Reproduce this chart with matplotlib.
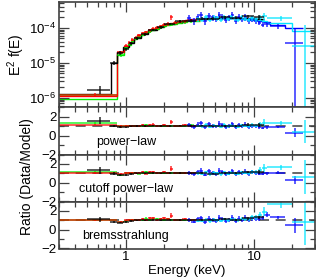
import numpy as np
import matplotlib
matplotlib.use("Agg")
import matplotlib.pyplot as plt
from matplotlib.ticker import LogLocator, MultipleLocator, FixedLocator, FixedFormatter, NullFormatter

plt.rcParams['font.family'] = ['Liberation Sans', 'DejaVu Sans']
plt.rcParams['mathtext.default'] = 'regular'
plt.rcParams['axes.unicode_minus'] = True

# ---------------- data (keV, E^2 f(E)) ----------------
# black
bk_edges = [0.5, 0.75, 0.85, 0.95, 1.05, 1.15, 1.3, 1.5, 1.75, 2.0, 2.4, 2.9, 3.5, 4.3, 5.3, 6.5, 8.0, 10.0, 12.0]
bk_flux = [1.7e-6, 1.0e-5, 1.9e-5, 2.5e-5, 3.6e-5, 5.0e-5, 6.5e-5, 8.9e-5, 1.03e-4, 1.3e-4, 1.53e-4, 1.62e-4,
           1.85e-4, 1.85e-4, 2.05e-4, 1.95e-4, 2.15e-4, 2.0e-4]
bk_frel = [0.25, 0.15, 0.12, 0.1, 0.1, 0.08, 0.08, 0.08, 0.08, 0.08, 0.08, 0.08, 0.08, 0.08, 0.1, 0.1, 0.12, 0.15]
bk_mod_edges = [0.3, 0.76, 0.85, 0.95, 1.05, 1.15, 1.3, 1.5, 1.75, 2.0, 2.4, 2.9, 3.5, 4.3, 5.3, 6.5, 8.0, 10.0, 12.0]
bk_mod = [1.3e-6, 1.0e-5, 2.1e-5, 2.9e-5, 3.8e-5, 5.0e-5, 6.6e-5, 8.5e-5, 1.05e-4, 1.28e-4, 1.48e-4, 1.65e-4,
          1.8e-4, 1.9e-4, 1.95e-4, 1.95e-4, 1.9e-4, 1.8e-4]
bk_r_pl = [1.55, 1.0, 0.9, 0.86, 0.95, 1.0, 0.98, 1.05, 0.98, 1.02, 1.03, 0.98, 1.03, 0.97, 1.05, 1.0, 1.13, 1.1]
bk_r_cpl = [1.3, 0.95, 0.85, 0.85, 0.95, 1.0, 0.98, 1.05, 0.98, 1.02, 1.03, 0.98, 1.03, 0.97, 1.05, 1.0, 1.13, 1.15]
bk_r_br = [1.1, 0.8, 0.75, 0.8, 0.92, 1.0, 0.98, 1.05, 1.0, 1.03, 1.05, 1.0, 1.05, 1.0, 1.1, 1.05, 1.2, 1.3]

# red and green (shared binning)
rg_edges = [0.3, 0.85, 0.97, 1.03, 1.09, 1.16, 1.23, 1.31, 1.39, 1.48, 1.58, 1.68, 1.80, 1.93, 2.07, 2.20,
            2.32, 2.50, 2.75, 3.00, 3.40, 3.80]
rd_flux = [1.25e-6, 2.0e-5, 3.1e-5, 3.8e-5, 4.6e-5, 5.3e-5, 6.2e-5, 7.0e-5, 7.6e-5, 8.6e-5, 9.6e-5, 1.02e-4,
           1.12e-4, 1.22e-4, 1.30e-4, 2.0e-4, 1.42e-4, 1.50e-4, 1.56e-4, 1.64e-4, 1.70e-4]
rd_frel = [0.08, 0.12, 0.1, 0.1, 0.1, 0.1, 0.1, 0.1, 0.1, 0.1, 0.1, 0.1, 0.1, 0.1, 0.1, 0.15, 0.1, 0.1, 0.1, 0.1, 0.1]
rd_mod = [1.1e-6, 2.1e-5, 3.0e-5, 3.7e-5, 4.5e-5, 5.3e-5, 6.1e-5, 6.9e-5, 7.7e-5, 8.6e-5, 9.4e-5, 1.03e-4,
          1.12e-4, 1.2e-4, 1.28e-4, 1.35e-4, 1.41e-4, 1.49e-4, 1.56e-4, 1.63e-4, 1.70e-4]
rd_r_pl = [1.15, 0.95, 1.05, 1.02, 1.03, 1.0, 1.05, 1.08, 0.95, 1.1, 1.15, 0.98, 1.0, 1.12, 1.05, 1.45, 1.02, 1.0,
           1.08, 1.0, 1.02]
rd_r_cpl = [1.05, 0.9, 1.02, 1.0, 1.03, 1.0, 1.05, 1.1, 0.97, 1.12, 1.17, 1.0, 1.02, 1.15, 1.08, 1.5, 1.05, 1.02,
            1.08, 1.0, 1.02]
rd_r_br = [1.0, 0.82, 0.98, 1.0, 1.05, 1.03, 1.08, 1.15, 1.02, 1.2, 1.25, 1.08, 1.1, 1.2, 1.12, 1.5, 1.08, 1.05,
           1.1, 1.02, 1.02]

gr_flux = [1.2e-6, 1.7e-5, 2.6e-5, 3.4e-5, 4.2e-5, 4.9e-5, 5.5e-5, 6.4e-5, 7.3e-5, 7.8e-5, 8.8e-5, 9.6e-5,
           1.06e-4, 1.12e-4, 1.22e-4, 1.25e-4, 1.33e-4, 1.40e-4, 1.48e-4, 1.58e-4, 1.62e-4]
gr_frel = [0.08, 0.12, 0.1, 0.1, 0.1, 0.1, 0.1, 0.1, 0.1, 0.1, 0.1, 0.1, 0.1, 0.1, 0.1, 0.1, 0.1, 0.1, 0.1, 0.1, 0.1]
gr_mod = [0.93e-6, 1.7e-5, 2.6e-5, 3.3e-5, 4.1e-5, 4.8e-5, 5.6e-5, 6.4e-5, 7.1e-5, 7.9e-5, 8.7e-5, 9.5e-5,
          1.04e-4, 1.12e-4, 1.19e-4, 1.26e-4, 1.32e-4, 1.4e-4, 1.47e-4, 1.55e-4, 1.62e-4]
gr_r_pl = [1.35, 0.95, 1.0, 1.05, 1.02, 1.0, 0.95, 1.0, 1.08, 0.98, 1.05, 1.0, 1.03, 0.98, 1.05, 0.98, 1.02, 1.0,
           1.05, 1.06, 1.0]
gr_r_cpl = [1.15, 0.85, 0.98, 1.05, 1.02, 1.0, 0.97, 1.02, 1.1, 1.0, 1.08, 1.02, 1.05, 1.0, 1.08, 1.0, 1.05, 1.02,
            1.06, 1.06, 1.0]
gr_r_br = [1.02, 0.78, 0.95, 1.05, 1.05, 1.05, 1.02, 1.08, 1.18, 1.08, 1.15, 1.1, 1.12, 1.05, 1.12, 1.05, 1.08,
           1.05, 1.08, 1.08, 1.02]

# blue
bl_edges = [3.0, 3.25, 3.5, 3.75, 4.0, 4.3, 4.6, 4.9, 5.2, 5.5, 5.85, 6.2, 6.6, 7.0, 7.4, 7.85, 8.3, 8.8, 9.4,
            10.0, 10.7, 11.4, 12.0, 13.4, 17.5, 24.0]
bl_flux = [1.87e-4, 1.58e-4, 2.07e-4, 2.38e-4, 1.58e-4, 2.26e-4, 2.0e-4, 1.81e-4, 2.4e-4, 2.11e-4, 1.73e-4,
           2.0e-4, 2.28e-4, 1.6e-4, 2.05e-4, 1.84e-4, 2.07e-4, 1.58e-4, 1.81e-4, 1.59e-4, 1.38e-4, 1.25e-4,
           1.26e-4, 1.13e-4, 3.7e-5]
bl_frel = [0.22, 0.22, 0.2, 0.2, 0.22, 0.2, 0.2, 0.2, 0.22, 0.2, 0.2, 0.2, 0.22, 0.2, 0.2, 0.2, 0.22, 0.2, 0.2,
           0.2, 0.15, 0.15, 0.15, 0.15, 1.7]
bl_mod = [1.7e-4, 1.75e-4, 1.8e-4, 1.83e-4, 1.86e-4, 1.88e-4, 1.9e-4, 1.91e-4, 1.92e-4, 1.92e-4, 1.92e-4,
          1.91e-4, 1.9e-4, 1.88e-4, 1.86e-4, 1.84e-4, 1.8e-4, 1.76e-4, 1.72e-4, 1.67e-4, 1.62e-4, 1.56e-4,
          1.48e-4, 1.25e-4, 1.0e-4]
bl_r_pl = [1.1, 0.9, 1.15, 1.3, 0.85, 1.2, 1.05, 0.95, 1.25, 1.1, 0.9, 1.05, 1.2, 0.85, 1.1, 1.0, 1.15, 0.9,
           1.05, 0.95, 0.85, 0.8, 0.85, 0.9, 0.3]
bl_r_cpl = [1.05, 0.88, 1.12, 1.28, 0.85, 1.2, 1.05, 0.95, 1.25, 1.1, 0.9, 1.05, 1.2, 0.88, 1.12, 1.02, 1.18,
            0.95, 1.1, 1.0, 0.95, 0.95, 1.0, 1.05, 0.25]
bl_r_br = [1.0, 0.85, 1.1, 1.25, 0.82, 1.18, 1.05, 0.95, 1.25, 1.12, 0.92, 1.08, 1.25, 0.92, 1.18, 1.08, 1.28,
           1.05, 1.22, 1.15, 1.15, 1.25, 1.6, 1.3, 0.45]

# cyan
cy_edges = [3.5, 3.8, 4.1, 4.4, 4.7, 5.0, 5.35, 5.7, 6.05, 6.45, 6.85, 7.3, 7.75, 8.25, 8.8, 9.4, 10.0, 10.7,
            11.5, 12.6, 20.0, 30.0]
cy_flux = [1.78e-4, 1.73e-4, 2.04e-4, 1.68e-4, 1.98e-4, 1.9e-4, 1.72e-4, 2.1e-4, 1.81e-4, 2.0e-4, 1.89e-4,
           1.72e-4, 2.0e-4, 1.82e-4, 1.69e-4, 1.91e-4, 1.79e-4, 1.97e-4, 2.12e-4, 1.9e-4, 3.0e-5]
cy_frel = [0.15, 0.15, 0.15, 0.15, 0.15, 0.15, 0.15, 0.15, 0.15, 0.15, 0.15, 0.15, 0.15, 0.15, 0.15, 0.18,
           0.18, 0.2, 0.25, 0.15, 3.0]
cy_mod = [1.78e-4, 1.82e-4, 1.85e-4, 1.87e-4, 1.89e-4, 1.9e-4, 1.91e-4, 1.91e-4, 1.91e-4, 1.9e-4, 1.89e-4,
          1.87e-4, 1.85e-4, 1.82e-4, 1.78e-4, 1.74e-4, 1.7e-4, 1.64e-4, 1.57e-4, 1.42e-4, 0.8e-4]
cy_r_pl = [1.0, 0.95, 1.1, 0.9, 1.05, 1.0, 0.9, 1.1, 0.95, 1.05, 1.0, 0.92, 1.08, 1.0, 0.95, 1.1, 1.05, 1.2,
           1.35, 1.3, 0.4]
cy_r_cpl = [0.98, 0.95, 1.1, 0.9, 1.05, 1.0, 0.9, 1.1, 0.95, 1.05, 1.02, 0.95, 1.1, 1.05, 1.0, 1.18, 1.15, 1.35,
            1.55, 1.65, 0.6]
cy_r_br = [0.95, 0.92, 1.08, 0.9, 1.05, 1.02, 0.92, 1.12, 0.98, 1.1, 1.08, 1.02, 1.18, 1.12, 1.1, 1.3, 1.3, 1.6,
           1.9, 2.7, 0.8]

panel_labels = ["power\u2212law", "cutoff power\u2212law", "bremsstrahlung"]

datasets = [
    dict(edges=rg_edges, flux=gr_flux, frel=gr_frel, medges=rg_edges, mod=gr_mod,
         r=[gr_r_pl, gr_r_cpl, gr_r_br], color='#00ee00'),
    dict(edges=rg_edges, flux=rd_flux, frel=rd_frel, medges=rg_edges, mod=rd_mod,
         r=[rd_r_pl, rd_r_cpl, rd_r_br], color='#ff0000'),
    dict(edges=bl_edges, flux=bl_flux, frel=bl_frel, medges=bl_edges, mod=bl_mod,
         r=[bl_r_pl, bl_r_cpl, bl_r_br], color='#0000ff'),
    dict(edges=cy_edges, flux=cy_flux, frel=cy_frel, medges=cy_edges, mod=cy_mod,
         r=[cy_r_pl, cy_r_cpl, cy_r_br], color='#00e5ff'),
    dict(edges=bk_edges, flux=bk_flux, frel=bk_frel, medges=bk_mod_edges, mod=bk_mod,
         r=[bk_r_pl, bk_r_cpl, bk_r_br], color='#000000'),
]

# ---------------- figure ----------------
W, H = 316, 280
fig = plt.figure(figsize=(W / 100, H / 100), dpi=100)

def frac_rect(x0, y0, x1, y1):
    return [x0 / W, 1 - y1 / H, (x1 - x0) / W, (y1 - y0) / H]

ax_top = fig.add_axes(frac_rect(59, 2, 315, 107))
ax_r = [fig.add_axes(frac_rect(59, 107, 315, 154.5)),
        fig.add_axes(frac_rect(59, 154.5, 315, 201.5)),
        fig.add_axes(frac_rect(59, 201.5, 315, 248.5))]

frame_col = '0.25'

def style(ax):
    ax.set_xscale('log')
    ax.set_xlim(0.3, 30)
    for s in ax.spines.values():
        s.set_color(frame_col)
        s.set_linewidth(1.2)
    ax.tick_params(which='both', direction='in', top=True, right=True, colors=frame_col,
                   labelcolor='black', labelsize=9.5, width=0.9, pad=2)
    ax.tick_params(which='major', length=7)
    ax.tick_params(which='minor', length=3.5)
    ax.xaxis.set_major_locator(FixedLocator([1, 10]))
    ax.xaxis.set_minor_locator(LogLocator(base=10, subs=np.arange(2, 10), numticks=20))
    ax.xaxis.set_minor_formatter(NullFormatter())

# top panel
style(ax_top)
ax_top.set_yscale('log')
ax_top.set_ylim(5.5e-7, 5.5e-4)
ax_top.yaxis.set_major_locator(LogLocator(base=10, numticks=10))
ax_top.yaxis.set_minor_locator(LogLocator(base=10, subs=np.arange(2, 10), numticks=20))
ax_top.yaxis.set_minor_formatter(NullFormatter())
ax_top.set_xticklabels([])

for d in datasets:
    e = np.array(d['edges'])
    lo, hi = e[:-1], e[1:]
    xc = (lo + hi) / 2
    f = np.array(d['flux'])
    fr = np.array(d['frel'])
    ax_top.errorbar(xc, f, xerr=[xc - lo, hi - xc], yerr=f * fr, fmt='none',
                    ecolor=d['color'], elinewidth=1.4, alpha=0.65, capsize=0)
for d in datasets:
    me = np.array(d['medges'])
    m = np.array(d['mod'])
    ax_top.stairs(m, me, color=d['color'], linewidth=1.0, baseline=None)

ax_top.set_ylabel('E$^2$ f(E)', fontsize=10)
ax_top.yaxis.set_label_coords((27 - 59) / 256, 0.5)

for i, ax in enumerate(ax_r):
    style(ax)
    ax.set_ylim(-2.0, 3.0)
    ax.yaxis.set_major_locator(FixedLocator([-2, 0, 2]))
    ax.yaxis.set_minor_locator(MultipleLocator(1))
    ax.axhline(1.0, color='0.3', linestyle=(0, (6, 4)), linewidth=1.2, zorder=1)
    for d in datasets:
        e = np.array(d['edges'])
        lo, hi = e[:-1], e[1:]
        xc = (lo + hi) / 2
        r = np.array(d['r'][i])
        fr = np.array(d['frel'])
        ax.errorbar(xc, r, xerr=[xc - lo, hi - xc], yerr=r * fr, fmt='none',
                    ecolor=d['color'], elinewidth=1.4, alpha=0.65, capsize=0, zorder=2)
    ax.text(1.0, -0.65, panel_labels[i], ha='center', va='center', fontsize=9)
    if i < 2:
        ax.set_xticklabels([])
    else:
        ax.xaxis.set_major_formatter(FixedFormatter(['1', '10']))

ax_r[2].set_xlabel('Energy (keV)', fontsize=9.5, labelpad=1)
fig.text(27 / W, 1 - 177 / H, 'Ratio (Data/Model)', rotation=90, ha='center', va='center', fontsize=10)

fig.savefig('out.png', dpi=100)
